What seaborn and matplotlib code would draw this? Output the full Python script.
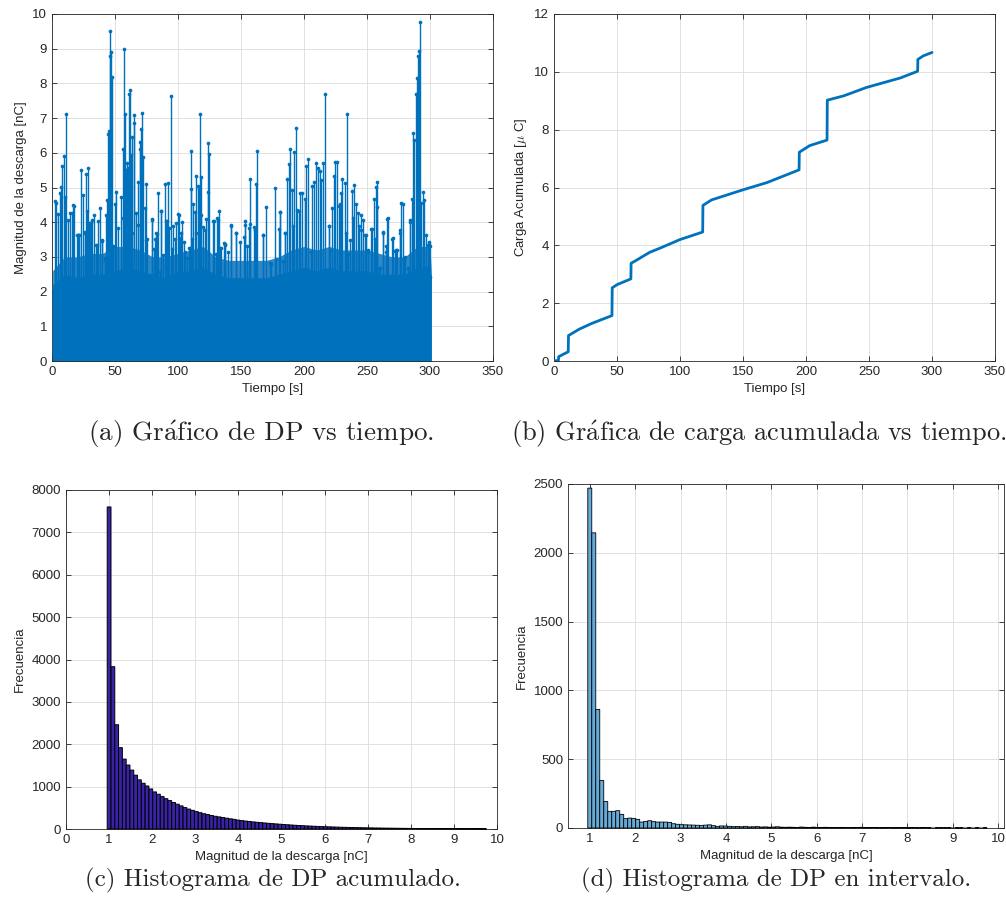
import numpy as np
import pandas as pd
import seaborn as sns
import matplotlib.pyplot as plt

# (a) discharge magnitude vs time: tall stems (t [s], magnitude [nC])
peak_t = [0.8, 2.1, 3.4, 4.8, 6.1, 7.4, 8.2, 9.3, 10.3, 11.4, 12.7, 14.0, 16.1, 17.5, 19.8,
          21.4, 23.0, 24.6, 25.9, 26.7, 28.0, 28.8, 29.9, 32.0, 34.7, 36.8, 37.8, 39.9, 42.1,
          43.1, 43.7, 44.2, 45.2, 45.8, 46.3, 46.8, 47.4, 48.4, 50.0, 51.1, 52.4, 55.0, 56.3,
          57.1, 57.7, 58.2, 59.0, 59.8, 60.6, 61.1, 61.6, 62.4, 63.8, 64.8, 65.3, 66.9, 68.5,
          69.6, 70.1, 70.9, 71.4, 72.2, 73.5, 74.3, 75.4, 79.1, 81.0, 82.8, 84.4, 86.5, 88.1,
          89.7, 90.7, 92.1, 94.2, 96.0, 98.7, 100.3, 101.9, 103.4, 105.3, 109.3, 110.1, 110.6,
          111.9, 113.2, 114.3, 115.6, 116.4, 117.2, 118.0, 118.5, 119.8, 122.5, 123.5, 124.1,
          124.6, 127.8, 131.0, 132.3, 134.4, 137.0, 141.8, 145.8, 148.9, 152.4, 153.4, 154.8,
          156.9, 157.4, 160.1, 161.1, 162.2, 162.7, 167.5, 169.6, 172.8, 176.7, 179.9, 180.7,
          185.2, 186.5, 188.1, 189.2, 190.7, 192.1, 193.7, 194.7, 196.6, 198.7, 200.5, 201.9,
          203.2, 206.3, 207.9, 209.8, 211.1, 212.4, 213.8, 215.1, 216.4, 219.8, 222.0, 223.8,
          224.9, 226.2, 227.8, 229.4, 230.4, 232.5, 234.4, 236.2, 237.8, 239.7, 241.0, 243.1,
          245.0, 246.8, 248.4, 251.1, 253.4, 255.6, 256.9, 257.7, 258.2, 260.6, 262.7, 265.3,
          266.1, 270.6, 273.3, 275.9, 277.2, 278.6, 279.9, 282.5, 284.4, 285.7, 286.5, 287.6,
          288.6, 289.4, 290.2, 290.7, 291.5, 292.3, 293.1, 294.4, 295.5, 297.1, 298.4, 299.2,
          300.3]
peak_v = [2.10, 4.60, 4.55, 4.25, 4.83, 5.02, 5.63, 5.90, 4.74, 7.13, 4.07, 4.26, 4.26, 4.48, 3.64,
          3.64, 5.50, 4.78, 3.73, 5.38, 4.31, 5.55, 3.97, 4.07, 3.35, 4.04, 4.40, 3.49, 2.92,
          4.21, 4.64, 6.53, 6.63, 9.52, 8.78, 8.90, 8.18, 3.30, 4.53, 4.88, 3.83, 4.74, 6.10,
          9.00, 7.11, 4.55, 5.50, 5.70, 5.55, 7.70, 7.80, 5.93, 6.46, 7.08, 6.86, 4.26, 5.17,
          6.12, 6.32, 6.70, 7.15, 5.88, 4.40, 5.09, 3.51, 4.09, 3.23, 3.68, 4.85, 4.33, 3.06,
          5.09, 4.04, 5.14, 7.64, 3.88, 3.97, 4.24, 3.54, 4.02, 3.14, 3.25, 6.06, 4.96,
          4.53, 4.29, 5.33, 5.05, 4.96, 7.11, 5.31, 4.21, 3.85, 4.10, 4.86, 6.27,
          5.96, 4.04, 4.11, 4.33, 3.25, 3.37, 3.90, 3.68, 3.42, 3.56, 4.04, 3.30,
          3.95, 5.24, 3.85, 3.78, 5.09, 6.04, 3.63, 4.43, 2.82, 4.98, 3.80, 4.29,
          3.68, 5.24, 5.69, 6.10, 4.93, 6.03, 6.72, 4.35, 4.83, 4.83, 4.68, 5.63,
          5.81, 5.05, 5.17, 5.71, 5.55, 5.48, 5.22, 5.71, 7.70, 3.89, 4.40, 5.34,
          5.74, 5.74, 4.48, 4.83, 5.24, 5.14, 7.13, 3.49, 4.91, 5.07, 4.52, 4.26,
          3.78, 4.05, 3.62, 3.19, 3.80, 4.68, 5.02, 5.17, 4.45, 2.68, 3.71, 3.30,
          4.10, 3.54, 3.19, 3.78, 4.55, 4.53, 3.01, 2.68, 4.02, 4.66, 6.56, 6.36,
          7.70, 8.16, 7.66, 8.78, 8.93, 9.76, 4.55, 4.88, 4.64, 3.64, 3.35, 3.44,
          2.42]
# (a) medium stems inside the dense band
mid_t = [16.4, 20.6, 21.6, 26.5, 29.6, 31.2, 33.1, 35.7, 39.7, 42.3, 48.1, 56.1, 58.7, 63.5,
         68.3, 74.9, 79.4, 82.0, 83.3, 86.0, 86.8, 91.3, 92.6, 95.2, 97.4, 100.6, 102.6, 104.5,
         107.1, 108.5, 111.1, 114.3, 121.2, 128.3, 130.2, 131.7, 133.6, 136.2, 137.6, 139.7,
         142.3, 145.0, 146.3, 153.2, 156.6, 167.2, 173.5, 177.8, 181.0, 183.6, 184.9, 191.5,
         196.0, 205.6, 220.1, 220.6, 228.6, 233.1, 235.2, 239.2, 243.7, 245.4, 248.9, 251.0,
         254.2, 256.3, 259.8, 262.4, 264.8, 266.4, 270.1, 272.2, 274.0, 276.2, 279.6, 282.8,
         284.1, 296.8, 299.4, 300.0]
mid_v = [4.50, 3.63, 3.63, 3.68, 3.97, 3.97, 4.21, 3.34, 3.47, 2.96, 3.29, 4.11, 3.92, 3.68,
         3.92, 3.50, 4.07, 3.53, 3.65, 2.57, 4.33, 4.03, 3.84, 3.22, 3.51, 4.21, 3.68, 3.44,
         2.96, 3.25, 3.53, 3.68, 3.78, 4.03, 3.07, 4.07, 3.25, 3.39, 3.34, 3.15,
         3.92, 2.34, 3.68, 3.92, 3.84, 3.63, 2.79, 2.95, 4.29, 2.89, 3.68, 3.88,
         4.33, 3.15, 3.88, 3.20, 4.52, 3.68, 3.08, 4.12, 3.88, 4.21, 3.63, 3.15,
         3.79, 3.51, 2.67, 3.68, 3.15, 4.11, 3.53, 3.17, 3.19, 3.70, 2.94, 2.69,
         4.07, 2.69, 3.38, 3.30]
# (a) top of the solid mass of stems, read every 10 s
base_t = [0.5, 10, 20, 30, 40, 50, 60, 70, 80, 90, 100, 110, 120, 130, 140, 150,
          160, 170, 180, 190, 200, 210, 220, 230, 240, 250, 260, 270, 280, 290, 300, 301]
solid_v = [2.2, 2.5, 2.4, 2.5, 2.5, 2.6, 2.7, 2.6, 2.5, 2.4, 2.6, 2.6, 2.7, 2.5, 2.4, 2.4,
           2.4, 2.4, 2.5, 2.6, 2.7, 2.6, 2.7, 2.6, 2.6, 2.6, 2.5, 2.5, 2.5, 2.7, 2.7, 2.4]
dense_v = [2.6, 3.0, 3.0, 3.1, 3.1, 3.3, 3.3, 3.2, 3.0, 3.0, 3.1, 3.2, 3.3, 3.0, 2.9, 2.9,
           2.9, 2.9, 3.0, 3.2, 3.3, 3.2, 3.3, 3.2, 3.2, 3.2, 3.1, 3.0, 3.0, 3.3, 3.3, 2.6]

# (b) accumulated charge [uC]
t_cum = [0, 3.5, 3.7, 11.3, 11.5, 20, 30, 46, 46.2, 50, 61, 61.2, 66, 76, 84, 100, 118,
         118.2, 125, 150, 169, 194.5, 194.7, 203, 216.7, 216.9, 230, 248, 275, 288.6, 288.8,
         293, 300]
q_cum = [0, 0.02, 0.15, 0.32, 0.88, 1.1, 1.3, 1.57, 2.53, 2.64, 2.84, 3.38, 3.5, 3.76, 3.9,
         4.2, 4.46, 5.38, 5.57, 5.92, 6.17, 6.61, 7.22, 7.45, 7.64, 9.02, 9.17, 9.46, 9.79,
         10.02, 10.43, 10.55, 10.67]

# (c) accumulated histogram counts (100 bins)
counts_c = [7600, 3830, 2460, 1920, 1650, 1510, 1390, 1270, 1160, 1080,
            1015, 945, 875, 820, 765, 715, 670, 625, 585, 545,
            505, 470, 440, 410, 385, 360, 340, 320, 300, 285,
            270, 255, 240, 228, 210, 198, 187, 177, 167, 158,
            150, 142, 134, 127, 120, 113, 106, 100, 94, 88,
            83, 78, 73, 69, 65, 61, 57, 54, 51, 48,
            45, 42, 40, 37, 35, 33, 31, 29, 27, 26,
            24, 23, 21, 20, 19, 18, 17, 16, 15, 14,
            13, 12, 12, 11, 10, 10, 9, 9, 8, 8,
            7, 7, 6, 6, 5, 5, 5, 4, 4, 3]
# (d) interval histogram counts (100 bins)
counts_d = [2470, 2145, 862, 345, 193, 121, 121, 126, 99, 68,
            72, 70, 63, 43, 48, 53, 46, 43, 43, 43,
            41, 31, 27, 24, 23, 22, 21, 20, 19, 21,
            23, 17, 12, 15, 14, 12, 10, 11, 9, 12,
            8, 9, 10, 7, 8, 6, 7, 9, 6, 5,
            6, 5, 4, 7, 5, 4, 6, 3, 4, 5,
            3, 4, 3, 2, 4, 3, 2, 3, 5, 2,
            2, 3, 2, 1, 2, 3, 1, 2, 1, 2,
            1, 2, 1, 1, 2, 1, 0, 1, 1, 1,
            1, 0, 1, 1, 0, 1, 0, 1, 0, 1]

bin_start, bin_w = 0.956, 0.088
centers = bin_start + bin_w * (np.arange(100) + 0.5)
hist = pd.DataFrame({'mag': centers, 'c': counts_c, 'd': counts_d})

sns.set_theme(style='ticks')
plt.rcParams['font.family'] = ['Liberation Sans', 'DejaVu Sans']
plt.rcParams.update({
    'axes.edgecolor': '#262626', 'axes.linewidth': 0.6,
    'xtick.color': '#262626', 'ytick.color': '#262626',
    'xtick.direction': 'in', 'ytick.direction': 'in',
    'xtick.top': True, 'ytick.right': True,
    'xtick.major.size': 3.5, 'ytick.major.size': 3.5,
    'xtick.major.width': 0.6, 'ytick.major.width': 0.6,
    'xtick.labelsize': 9.5, 'ytick.labelsize': 9.5,
    'axes.labelsize': 9.5, 'axes.labelcolor': '#262626',
    'axes.grid': True, 'grid.color': '#dcdcdc', 'grid.linewidth': 0.6,
    'mathtext.fontset': 'cm',
})

blue = '#0072BD'
fig = plt.figure(figsize=(10.06, 9.17), dpi=100)
W, H = 1006, 917


def box(l, r, t, b):
    return [l / W, (H - b) / H, (r - l) / W, (b - t) / H]


axA = fig.add_axes(box(52, 493, 14, 361))
axB = fig.add_axes(box(554, 995, 14, 361))
axC = fig.add_axes(box(66, 497, 490, 829))
axD = fig.add_axes(box(568, 1004, 484, 828))

# (a)
axA.fill_between(base_t, 0, dense_v, color='#2f87c7', lw=0, zorder=2)
axA.fill_between(base_t, 0, solid_v, color=blue, lw=0, zorder=2)
axA.vlines(mid_t, 0, mid_v, color=blue, lw=1.0, zorder=3)
axA.vlines(peak_t, 0, peak_v, color=blue, lw=1.0, zorder=3)
sns.scatterplot(x=mid_t + peak_t, y=mid_v + peak_v, ax=axA, color=blue, s=7,
                linewidth=0, zorder=4)
axA.set_xlim(0, 350)
axA.set_ylim(0, 10)
axA.set_xticks(range(0, 351, 50))
axA.set_yticks(range(0, 11))
axA.set_xlabel('Tiempo [s]')
axA.set_ylabel('Magnitud de la descarga [nC]')

# (b)
sns.lineplot(x=t_cum, y=q_cum, ax=axB, color=blue, lw=2, sort=False, zorder=3)
axB.set_xlim(0, 350)
axB.set_ylim(0, 12)
axB.set_xticks(range(0, 351, 50))
axB.set_yticks(range(0, 13, 2))
axB.set_xlabel('Tiempo [s]')
axB.set_ylabel(r'Carga Acumulada [$\mathit{\mu}$ C]')

# (c)
sns.histplot(data=hist, x='mag', weights='c', binwidth=bin_w,
             binrange=(bin_start, bin_start + 100 * bin_w), ax=axC, color='#3a22a6',
             edgecolor='black', linewidth=0.7, alpha=1, zorder=3)
axC.set_xlim(0, 10)
axC.set_ylim(0, 8000)
axC.set_xticks(range(0, 11))
axC.set_yticks(range(0, 8001, 1000))
axC.set_xlabel('Magnitud de la descarga [nC]')
axC.set_ylabel('Frecuencia')

# (d)
sns.histplot(data=hist, x='mag', weights='d', binwidth=bin_w,
             binrange=(bin_start, bin_start + 100 * bin_w), ax=axD, color='#66aad7',
             edgecolor='black', linewidth=0.6, alpha=1, zorder=3)
axD.set_xlim(0.52, 10.13)
axD.set_ylim(0, 2500)
axD.set_xticks(range(1, 11))
axD.set_yticks(range(0, 2501, 500))
axD.set_xlabel('Magnitud de la descarga [nC]')
axD.set_ylabel('Frecuencia')

for ax in (axC, axD):
    for p in ax.patches:
        p.set_clip_on(False)
        p.set_snap(False)

for ax in (axA, axB, axC, axD):
    ax.set_axisbelow(True)
    for s in ax.spines.values():
        s.set_visible(True)
        s.set_zorder(2.5)

cap = dict(ha='center', va='center', family=['cmr10', 'DejaVu Serif'])
fig.text(261 / W, 1 - 434 / H, r'(a) Gr$\acute{\mathrm{a}}$fico de DP vs tiempo.', fontsize=19.5, **cap)
fig.text(759 / W, 1 - 434 / H, r'(b) Gr$\acute{\mathrm{a}}$fica de carga acumulada vs tiempo.',
         fontsize=19, **cap)
fig.text(273 / W, 1 - 880 / H, '(c) Histograma de DP acumulado.', fontsize=18, **cap)
fig.text(776 / W, 1 - 880 / H, '(d) Histograma de DP en intervalo.', fontsize=18, **cap)

fig.savefig('out.png', dpi=100)
